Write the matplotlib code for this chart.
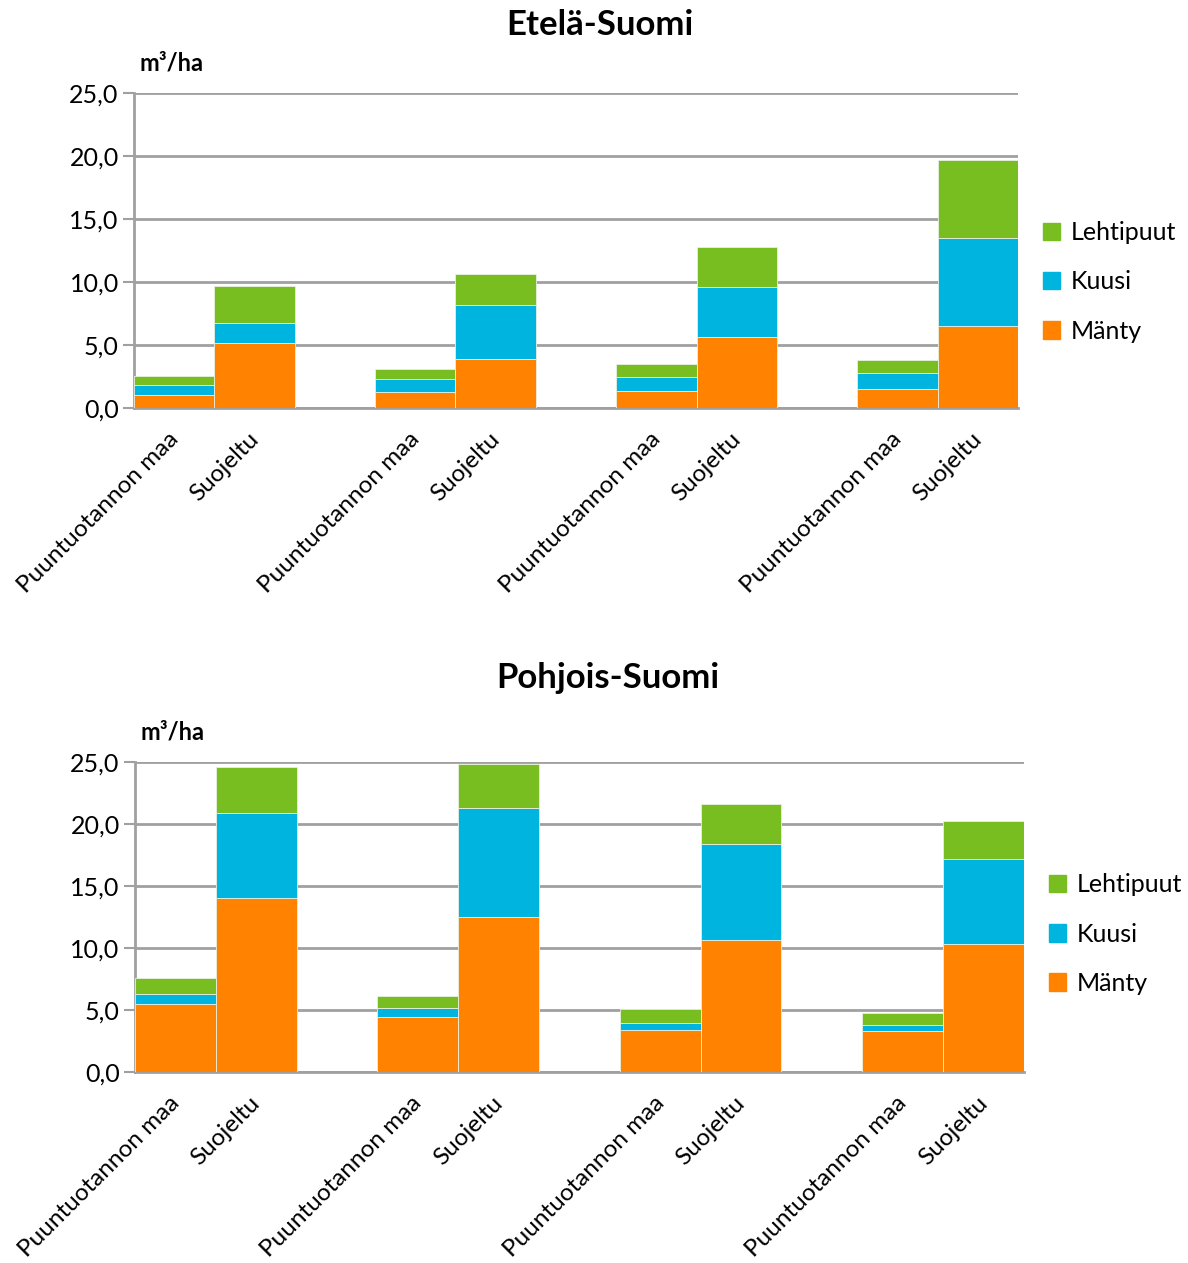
import numpy as np
import matplotlib.pyplot as plt
import matplotlib.transforms as mtransforms
from matplotlib.patches import Patch

plt.rcParams['font.family'] = ['Lato', 'DejaVu Sans']

# luokat ja arvot (m3/ha), järjestys: Puuntuotannon maa, Suojeltu, ... 4 ryhmää
kategoriat = ['Puuntuotannon maa', 'Suojeltu']
lajit = ['Mänty', 'Kuusi', 'Lehtipuut']
varit = ['#FF8200', '#00B4E0', '#78BE20']

etela_manty = [1.05, 5.15, 1.27, 3.88, 1.35, 5.67, 1.48, 6.50]
etela_kuusi = [0.74, 1.61, 1.03, 4.28, 1.11, 3.89, 1.26, 6.97]
etela_lehti = [0.77, 2.91, 0.76, 2.51, 1.03, 3.20, 1.03, 6.23]

pohjoinen_manty = [5.52, 14.00, 4.41, 12.51, 3.42, 10.69, 3.28, 10.33]
pohjoinen_kuusi = [0.78, 6.90, 0.79, 8.80, 0.53, 7.74, 0.51, 6.89]
pohjoinen_lehti = [1.29, 3.72, 0.91, 3.55, 1.17, 3.20, 1.00, 2.99]

y_ticks = [0, 5, 10, 15, 20, 25]


def piirra(ax, sarjat, leg_y):
    # paikat: kaksi palkkia vierekkäin, tyhjä paikka ryhmien välissä
    x = np.array([3 * (i // 2) + (i % 2) for i in range(8)])
    pohja = np.zeros(8)
    for arvot, vari in zip(sarjat, varit):
        ax.bar(x, arvot, width=1.0, bottom=pohja, color=vari,
               edgecolor='#e8f0e0', linewidth=0.6, zorder=3)
        pohja += np.array(arvot)
    ax.set_xlim(-0.5, 10.5)
    ax.set_ylim(0, 25)
    ax.set_yticks(y_ticks)
    ax.set_yticklabels([f'{v:.1f}'.replace('.', ',') for v in y_ticks], fontsize=18)
    ax.yaxis.grid(True, color='#a0a0a0', linewidth=2, zorder=0)
    ax.set_xticks(x)
    ax.set_xticklabels(kategoriat * 4, rotation=45, ha='right', va='top',
                       rotation_mode='anchor', fontsize=17.5)
    ax.tick_params(axis='x', length=0, pad=12)
    # siirretään nimiöitä hieman vasemmalle ja alas
    siirto = mtransforms.ScaledTranslation(-7 / 100, -4 / 100, ax.figure.dpi_scale_trans)
    for lbl in ax.get_xticklabels():
        lbl.set_transform(lbl.get_transform() + siirto)
    ax.tick_params(axis='y', length=8, width=1.5, color='#a0a0a0', pad=3)
    for s in ['top', 'right']:
        ax.spines[s].set_visible(False)
    ax.spines['left'].set_color('#a0a0a0')
    ax.spines['left'].set_linewidth(2)
    ax.spines['bottom'].set_color('#a0a0a0')
    ax.spines['bottom'].set_linewidth(2)
    ax.text(0.006, 1.06, 'm³/ha', transform=ax.transAxes, fontsize=17,
            fontweight='bold', ha='left', va='bottom')
    kasit = [Patch(color=varit[i], label=lajit[i]) for i in [2, 1, 0]]
    ax.legend(handles=kasit, loc='center left', bbox_to_anchor=(1.0, leg_y),
              frameon=False, fontsize=18, handlelength=0.7, handleheight=0.7,
              handletextpad=0.4, labelspacing=1.05, borderaxespad=0.6)


fig = plt.figure(figsize=(11.88, 12.63), dpi=100)
ax1 = fig.add_axes([0.1128, 0.6770, 0.7441, 0.2494])
ax2 = fig.add_axes([0.1136, 0.1512, 0.7483, 0.2454])

piirra(ax1, [etela_manty, etela_kuusi, etela_lehti], 0.40)
piirra(ax2, [pohjoinen_manty, pohjoinen_kuusi, pohjoinen_lehti], 0.445)

fig.text(0.505, 0.980, 'Etelä-Suomi', fontsize=25, fontweight='bold', ha='center', va='center')
fig.text(0.512, 0.463, 'Pohjois-Suomi', fontsize=25, fontweight='bold', ha='center', va='center')

plt.savefig('out.png', dpi=100)
